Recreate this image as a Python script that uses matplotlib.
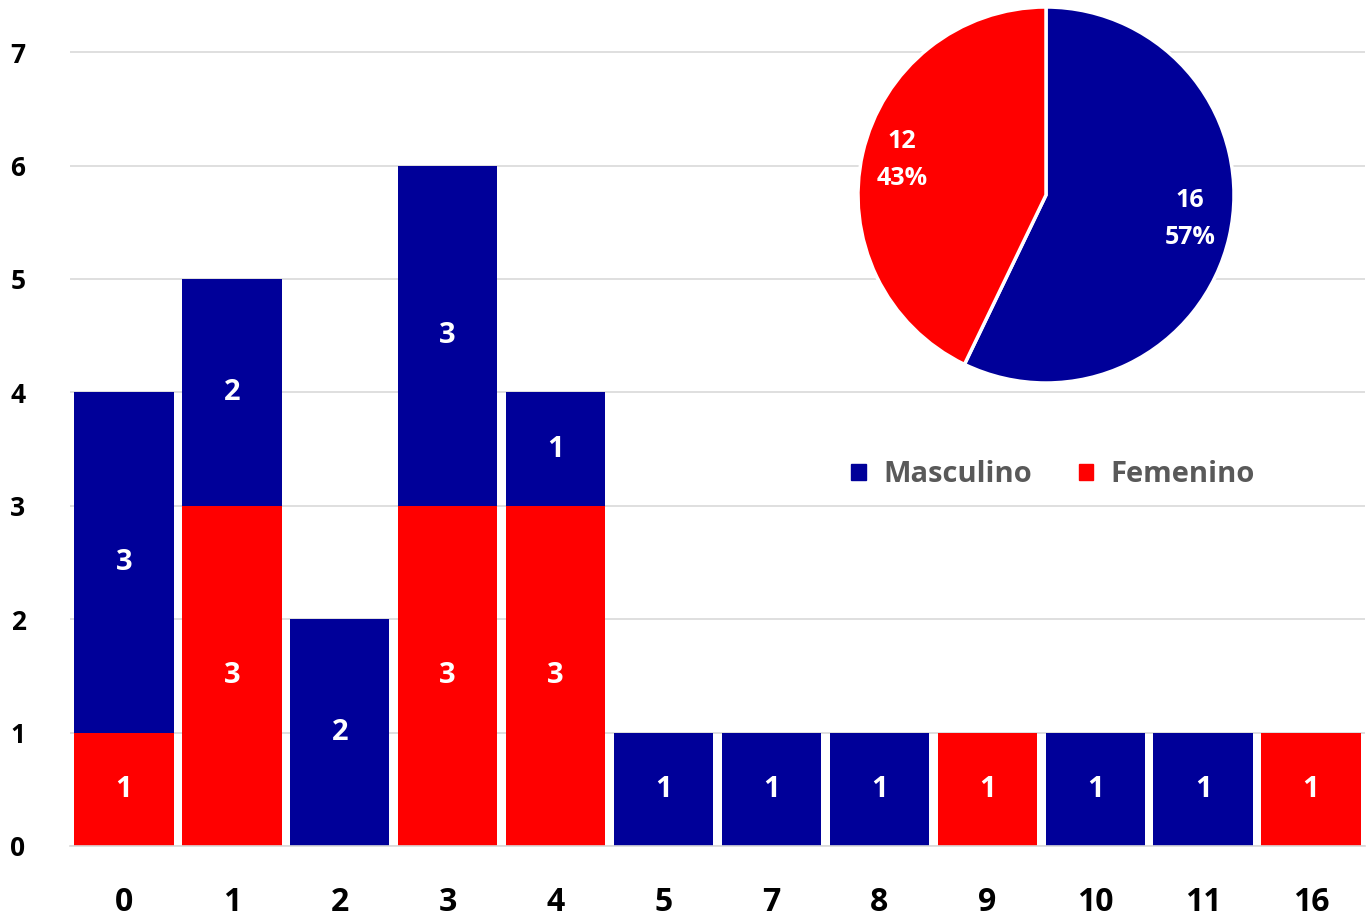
import matplotlib.pyplot as plt
import numpy as np
from matplotlib.patches import Patch

plt.rcParams['font.family'] = ['Open Sans', 'DejaVu Sans']

categories = ['0', '1', '2', '3', '4', '5', '7', '8', '9', '10', '11', '16']
femenino = [1, 3, 0, 3, 3, 0, 0, 0, 1, 0, 0, 1]
masculino = [3, 2, 2, 3, 1, 1, 1, 1, 0, 1, 1, 0]
pie_labels = ['Masculino', 'Femenino']
pie_values = [16, 12]

blue = '#000099'
red = '#FF0000'

fig = plt.figure(figsize=(13.71, 9.18), dpi=100)
ax = fig.add_axes([70 / 1371, 72 / 918, 1295 / 1371, 846 / 918])

x = np.arange(len(categories))
fem = np.array(femenino)
mas = np.array(masculino)
ax.bar(x, fem, width=0.92, color=red, zorder=2)
ax.bar(x, mas, width=0.92, bottom=fem, color=blue, zorder=2)

# value labels
for i in range(len(x)):
    if fem[i] > 0:
        ax.text(x[i], fem[i] / 2, str(fem[i]), ha='center', va='center',
                color='white', fontsize=21, fontweight='bold', zorder=3)
    if mas[i] > 0:
        ax.text(x[i], fem[i] + mas[i] / 2, str(mas[i]), ha='center', va='center',
                color='white', fontsize=21, fontweight='bold', zorder=3)

ax.set_xlim(-0.5, 11.5)
ax.set_ylim(0, 7.46)
ax.set_xticks(x)
ax.set_xticklabels(categories, fontsize=23, fontweight='bold')
ax.set_yticks(range(8))
ax.set_yticklabels([str(v) for v in range(8)], fontsize=19, fontweight='bold')
ax.tick_params(length=0)
ax.tick_params(axis='x', pad=29)
ax.tick_params(axis='y', pad=32)
ax.grid(axis='y', color='#d9d9d9', linewidth=1.2, zorder=0)
for s in ['top', 'right', 'left']:
    ax.spines[s].set_visible(False)
ax.spines['bottom'].set_color('#d9d9d9')
ax.spines['bottom'].set_linewidth(1.2)

# legend
handles = [Patch(color=blue), Patch(color=red)]
leg = fig.legend(handles, pie_labels, loc='center', bbox_to_anchor=(1053 / 1371, 1 - 475 / 918),
                 ncol=2, frameon=False, handlelength=0.5, handleheight=0.5,
                 columnspacing=1.6, handletextpad=0.6,
                 prop={'size': 21, 'weight': 'bold'})
for t in leg.get_texts():
    t.set_color('#595959')

# pie inset
r = 188
cx, cy = 1046, 195
pax = fig.add_axes([(cx - r) / 1371, 1 - (cy + r) / 918, 2 * r / 1371, 2 * r / 918])
wedges, _ = pax.pie(pie_values, colors=[blue, red], startangle=90, counterclock=False,
                    wedgeprops={'edgecolor': 'white', 'linewidth': 2.5})
total = sum(pie_values)
pie_text_pos = [(0.766, -0.128), (-0.766, 0.186)]
for (px, py), v in zip(pie_text_pos, pie_values):
    pax.text(px, py, f'{v}\n{round(100 * v / total)}%', ha='center', va='center',
             color='white', fontsize=18, fontweight='bold', linespacing=1.65)
pax.set_xlim(-1, 1)
pax.set_ylim(-1, 1)
pax.set_aspect('equal')

fig.savefig('out.png', dpi=100)
